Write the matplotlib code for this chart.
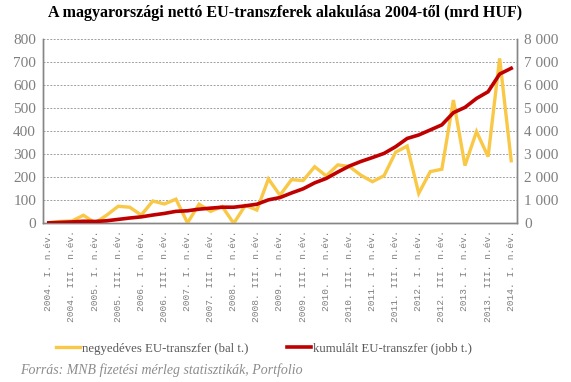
import matplotlib
matplotlib.use("Agg")
import matplotlib.pyplot as plt
import numpy as np

# Quarter labels (every second quarter is labelled on the axis)
years = list(range(2004, 2015))
quarters = ["I.", "II.", "III.", "IV."]
periods = [f"{y}. {q} n.év." for y in years for q in quarters][:41]

# Quarterly net EU transfer (left axis, mrd HUF)
quarterly = [3, 8, 10, 35, 2, 35, 74, 70, 36, 97,
             84, 105, 2, 83, 52, 73, 0, 78, 58, 193,
             122, 190, 186, 246, 206, 254, 247, 209, 181, 207,
             309, 336, 130, 225, 235, 536, 251, 399, 290, 717,
             272]

# Cumulated EU transfer (right axis, mrd HUF)
cumulated = [20, 40, 60, 90, 80, 110, 170, 230, 280, 360,
             430, 520, 545, 615, 660, 700, 700, 760, 830, 1020,
             1120, 1320, 1500, 1760, 1950, 2230, 2490, 2690, 2860, 3040,
             3330, 3690, 3840, 4060, 4280, 4810, 5040, 5430, 5720, 6490,
             6740]

left_ticks = list(range(0, 801, 100))
right_ticks = list(range(0, 8001, 1000))

YELLOW = "#F9C846"
RED = "#C00000"
GREY = "#7F7F7F"
SERIF = ["Liberation Serif", "DejaVu Serif"]
MONO = ["Liberation Mono", "DejaVu Sans Mono"]

fig = plt.figure(figsize=(5.71, 3.82), dpi=100)
ax = fig.add_axes([0.0753, 0.4154, 0.8301, 0.4817])
ax2 = ax.twinx()

x = np.arange(len(quarterly))
l1, = ax.plot(x, quarterly, color=YELLOW, lw=2.4, solid_joinstyle="miter",
              label="negyedéves EU-transzfer (bal t.)", zorder=3)
l2, = ax2.plot(x, cumulated, color=RED, lw=2.6,
               label="kumulált EU-transzfer (jobb t.)", zorder=4)

ax.set_xlim(-0.5, len(x) - 0.5)
ax.set_ylim(0, 800)
ax2.set_ylim(0, 8000)
ax.set_yticks(left_ticks)
ax2.set_yticks(right_ticks)
ax.set_yticklabels([str(v) for v in left_ticks], family=SERIF, fontsize=11,
                   color=GREY)
ax2.set_yticklabels([f"{v:,}".replace(",", " ") for v in right_ticks],
                    family=SERIF, fontsize=11, color=GREY)

ax.set_xticks(x[::2])
ax.set_xticklabels(periods[::2], rotation=90, family=MONO, fontsize=6.8,
                   color=GREY)

ax.grid(axis="y", color="#A0A0A0", linestyle=(0, (2, 1.5)), lw=0.7)
ax.set_axisbelow(True)
for a in (ax, ax2):
    a.spines["top"].set_visible(False)
    for s in ("left", "right", "bottom"):
        a.spines[s].set_color("#868686")
        a.spines[s].set_linewidth(1.0)
    a.tick_params(length=0, pad=5)
ax.tick_params(axis="x", pad=5)

fig.text(0.5, 0.965, "A magyarországi nettó EU-transzferek alakulása 2004-től (mrd HUF)",
         ha="center", va="center", family=SERIF, fontsize=11.5,
         fontweight="bold", color="black")

leg = fig.legend(handles=[l1, l2], loc="center", bbox_to_anchor=(0.462, 0.087),
                 ncol=2, frameon=False, handlelength=1.9, handletextpad=0.15,
                 columnspacing=3.0, prop={"family": SERIF, "size": 9.2})
for t in leg.get_texts():
    t.set_color("#595959")

fig.text(0.035, 0.032, "Forrás: MNB fizetési mérleg statisztikák, Portfolio",
         ha="left", va="center", family=SERIF, fontsize=10, style="italic",
         color="#8C8C8C")

fig.savefig("out.png", dpi=100)
